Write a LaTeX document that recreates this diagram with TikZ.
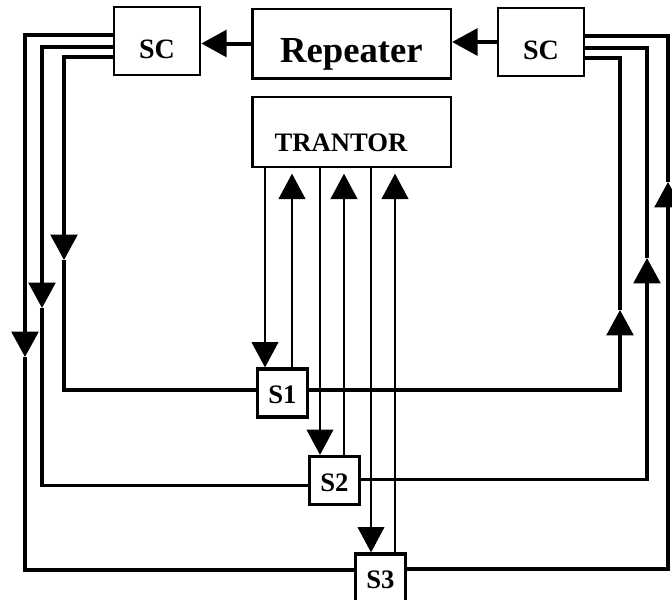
\documentclass[tikz,border=0pt]{standalone}
\usepackage{fontspec}
\setmainfont{Liberation Serif}
\usetikzlibrary{arrows.meta,positioning,calc}

\begin{document}
\begin{tikzpicture}[x=0.75pt, y=-0.75pt,
  box/.style={draw, line width=2pt, inner sep=0pt, font=\fontsize{21}{24}\selectfont\bfseries},
  scbox/.style={box, minimum width=64.5pt, minimum height=51pt, text height=26pt, text depth=0pt},
  stbox/.style={box, line width=2.4pt, minimum width=38pt, minimum height=36pt, font=\fontsize{20}{24}\selectfont\bfseries, text height=16pt, text depth=0pt},
  bigtip/.style={-{Triangle[width=20pt,length=19pt]}},
  loopline/.style={line width=2.5pt},
  sigline/.style={line width=1.5pt}]
  \useasboundingbox (0,0) rectangle (672,600);

  %% Top row
  \node[scbox] (scl) at (157,41) {SC};
  \node[box, minimum width=149pt, minimum height=52pt, font=\fontsize{27.5}{30}\selectfont\bfseries, text height=28pt, text depth=0pt] (rep) at (351.5,43.5) {Repeater};
  \node[scbox] (scr) at (541,42) {SC};
  \node[box, minimum width=149pt, minimum height=52.5pt, label={[font=\fontsize{20}{24}\selectfont\bfseries, xshift=-7.9pt, yshift=-8.2pt]center:TRANTOR}] (tr) at (351.5,132) {};

  %% Stations
  \node[stbox] (s1) at (282.5,393) {S1};
  \node[stbox] (s2) at (334.5,480.5) {S2};
  \node[stbox] (s3) at (380.5,578) {S3};

  %% Repeater feeds
  \draw[loopline, line width=3pt, bigtip] (rep.west) -- (rep.west -| scl.east);
  \draw[loopline, line width=3pt, bigtip] (scr.west) -- (scr.west -| rep.east);

  %% TRANTOR to stations and back
  \foreach \st/\dn/\up in {s1/265/292, s2/320/344, s3/371/395} {
    \draw[sigline, bigtip] (tr.south -| \dn,0) -- (\st.north -| \dn,0);
    \draw[sigline, bigtip, shorten >=4pt] (\st.north -| \up,0) -- (tr.south -| \up,0);
  }

  %% Left return loops
  \coordinate (la1) at (64,260);
  \coordinate (la2) at (42,308);
  \coordinate (la3) at (25,357);
  \draw[loopline, bigtip] ([shift={(0,16)}]scl.west) -| (la1);
  \draw[loopline] (la1) |- ([shift={(0,-3)}]s1.west);
  \draw[loopline, bigtip] ([shift={(0,6)}]scl.west) -| (la2);
  \draw[loopline] (la2) |- ([shift={(0,5)}]s2.west);
  \draw[loopline, bigtip] ([shift={(0,-6)}]scl.west) -| (la3);
  \draw[loopline] (la3) |- ([shift={(0,-8)}]s3.west);

  %% Right return loops
  \coordinate (ra1) at (620,310);
  \coordinate (ra2) at (647,258);
  \coordinate (ra3) at (668,182);
  \draw[loopline, bigtip] ([shift={(0,-3)}]s1.east) -| (ra1);
  \draw[loopline] (ra1) |- ([shift={(0,16)}]scr.east);
  \draw[loopline, bigtip] ([shift={(0,-1)}]s2.east) -| (ra2);
  \draw[loopline] (ra2) |- ([shift={(0,6)}]scr.east);
  \draw[loopline, bigtip] ([shift={(0,-9)}]s3.east) -| (ra3);
  \draw[loopline] (ra3) |- ([shift={(0,-6)}]scr.east);
\end{tikzpicture}
\end{document}
